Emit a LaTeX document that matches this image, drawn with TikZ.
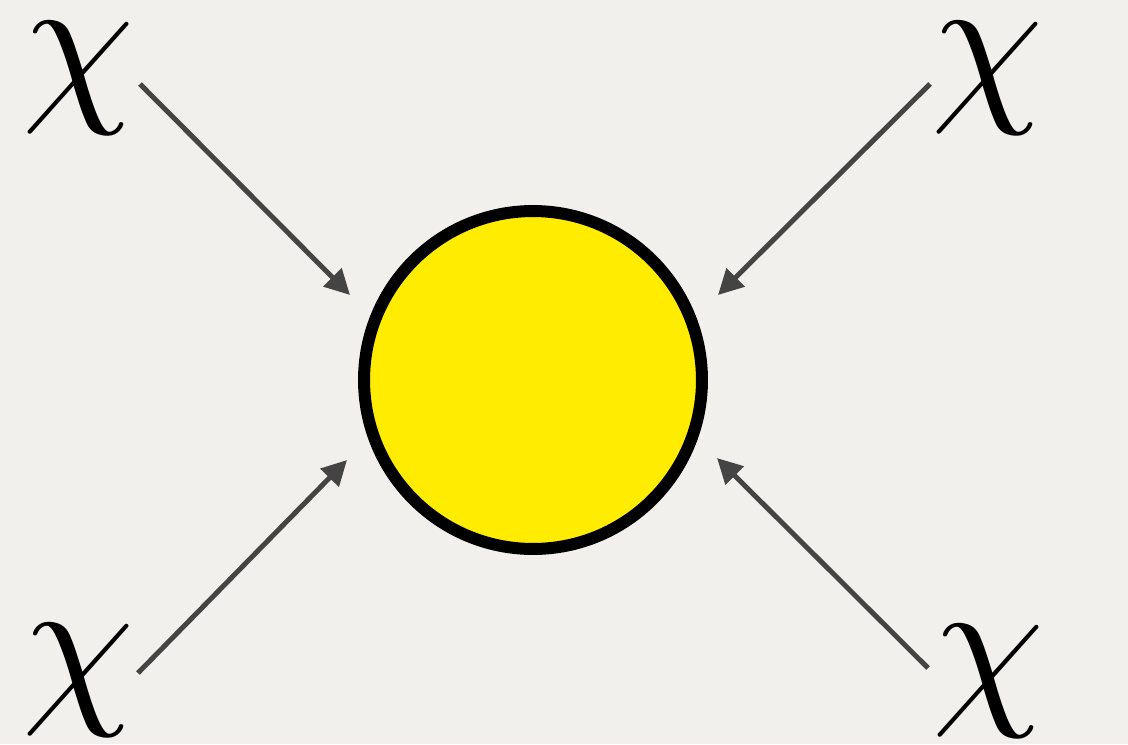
\documentclass[tikz,border=0pt]{standalone}
\usetikzlibrary{arrows.meta}
\definecolor{paper}{RGB}{242,240,236}
\definecolor{ballyellow}{RGB}{255,236,0}
\definecolor{flowgray}{RGB}{68,68,68}
\tikzset{
  ball/.style={circle, draw=black, fill=ballyellow, line width=0.24cm, minimum size=6.76cm, inner sep=0pt},
  chi/.style={inner sep=0pt, scale=10.2},
  flow/.style={-{Triangle[length=0.5cm,width=0.5cm]}, draw=flowgray, line width=0.1cm}
}
\begin{document}
\begin{tikzpicture}[x=0.02cm, y=-0.02cm]
    % Background
    \fill[paper] (0,0) rectangle (1128,744);
    % Target
    \node[ball] (ball) at (533,380) {};
    % Incoming particles
    \foreach \n/\x/\y in {tl/79/78, tr/988/78, bl/79/680, br/989/681}
        \node[chi] (\n) at (\x,\y) {$\chi$};
    % Arrow ends
    \foreach \n/\x/\y in {tls/140/84, tlt/350/295, trs/930/84, trt/718/295,
                          bls/138/673, blt/347/460, brs/928/668, brt/717/458}
        \coordinate (\n) at (\x,\y);
    % Arrows into the target
    \foreach \a/\b in {tls/tlt, trs/trt, bls/blt, brs/brt}
        \draw[flow] (\a) -- (\b);
    \useasboundingbox (0,0) rectangle (1128,744);
\end{tikzpicture}
\end{document}
